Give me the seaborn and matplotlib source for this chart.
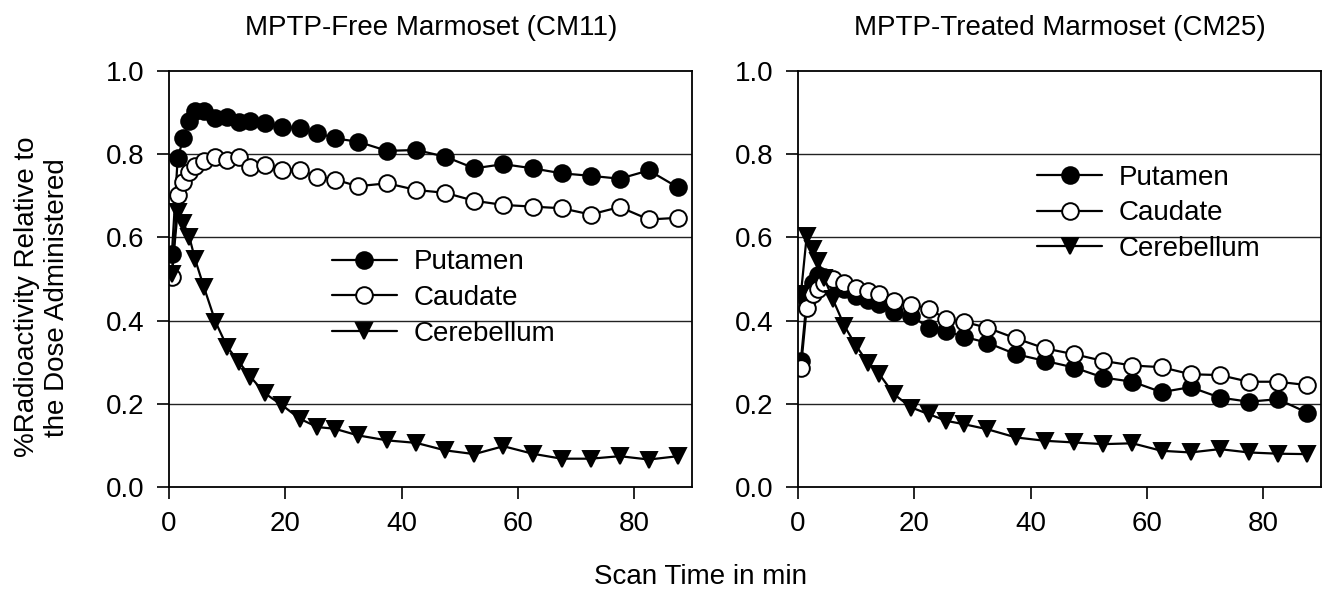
import numpy as np
import pandas as pd
import matplotlib
matplotlib.use("Agg")
import matplotlib.pyplot as plt
import seaborn as sns

# frame mid-times (min)
times = [0.5, 1.5, 2.5, 3.5, 4.5, 6, 8, 10, 12, 14, 16.5, 19.5, 22.5, 25.5, 28.5,
         32.5, 37.5, 42.5, 47.5, 52.5, 57.5, 62.5, 67.5, 72.5, 77.5, 82.5, 87.5]

# MPTP-free marmoset (CM11)
cm11_putamen = [0.56, 0.79, 0.84, 0.88, 0.905, 0.905, 0.886, 0.89, 0.878, 0.88, 0.874,
                0.866, 0.862, 0.852, 0.838, 0.83, 0.808, 0.81, 0.794, 0.766, 0.776,
                0.766, 0.754, 0.748, 0.741, 0.761, 0.72]
cm11_caudate = [0.505, 0.702, 0.734, 0.758, 0.771, 0.783, 0.794, 0.787, 0.794, 0.768,
                0.775, 0.763, 0.763, 0.746, 0.739, 0.723, 0.73, 0.714, 0.707, 0.688,
                0.678, 0.674, 0.67, 0.655, 0.673, 0.643, 0.647]
cm11_cerebellum = [0.513, 0.662, 0.634, 0.601, 0.547, 0.481, 0.397, 0.337, 0.301, 0.265,
                   0.225, 0.196, 0.164, 0.144, 0.140, 0.124, 0.112, 0.106, 0.088, 0.079,
                   0.098, 0.08, 0.068, 0.068, 0.074, 0.066, 0.074]

# MPTP-treated marmoset (CM25)
cm25_putamen = [0.304, 0.45, 0.49, 0.51, 0.505, 0.49, 0.475, 0.46, 0.449, 0.439, 0.421,
                0.411, 0.383, 0.375, 0.361, 0.347, 0.319, 0.303, 0.287, 0.263, 0.253,
                0.228, 0.24, 0.215, 0.205, 0.211, 0.179]
cm25_caudate = [0.285, 0.43, 0.463, 0.475, 0.49, 0.499, 0.491, 0.479, 0.471, 0.463,
                0.447, 0.437, 0.429, 0.403, 0.397, 0.383, 0.357, 0.333, 0.319, 0.303,
                0.292, 0.288, 0.271, 0.269, 0.253, 0.253, 0.245]
cm25_cerebellum = [0.463, 0.603, 0.571, 0.543, 0.503, 0.451, 0.387, 0.339, 0.299, 0.271,
                   0.223, 0.191, 0.175, 0.159, 0.151, 0.139, 0.119, 0.111, 0.107, 0.103,
                   0.105, 0.087, 0.083, 0.091, 0.083, 0.080, 0.079]

regions = ["Putamen", "Caudate", "Cerebellum"]
titles = ["MPTP-Free Marmoset (CM11)", "MPTP-Treated Marmoset (CM25)"]

sns.set_style("white")
plt.rcParams["font.family"] = ["Liberation Sans", "DejaVu Sans"]
plt.rcParams["font.size"] = 20
for k in ["text.color", "axes.labelcolor", "xtick.color", "ytick.color"]:
    plt.rcParams[k] = "black"

styles = {
    "Putamen": dict(marker="o", markerfacecolor="black", markersize=12),
    "Caudate": dict(marker="o", markerfacecolor="white", markersize=12),
    "Cerebellum": dict(marker="v", markerfacecolor="black", markersize=12),
}

panels = [
    pd.DataFrame({"time": times, "Putamen": cm11_putamen, "Caudate": cm11_caudate,
                  "Cerebellum": cm11_cerebellum}),
    pd.DataFrame({"time": times, "Putamen": cm25_putamen, "Caudate": cm25_caudate,
                  "Cerebellum": cm25_cerebellum}),
]

fig = plt.figure(figsize=(13.22, 5.92), dpi=100)
ax_left = fig.add_axes([0.1278, 0.1774, 0.396, 0.7027])
ax_right = fig.add_axes([0.6036, 0.1774, 0.396, 0.7027])
legend_pos = [(0.311, 0.571), (0.457, 0.775)]

for ax, df, title, lpos in zip([ax_left, ax_right], panels, titles, legend_pos):
    for g in [0.2, 0.4, 0.6, 0.8]:
        ax.axhline(g, color="#222222", lw=1.0, zorder=0)
    for reg in regions:
        sns.lineplot(data=df, x="time", y=reg, ax=ax, color="black", lw=1.6,
                     markeredgecolor="black", markeredgewidth=1.4, label=reg,
                     **styles[reg])
    ax.set_xlim(0, 90)
    ax.set_ylim(0, 1.0)
    ax.set_xticks([0, 20, 40, 60, 80])
    ax.set_yticks([0.0, 0.2, 0.4, 0.6, 0.8, 1.0])
    ax.set_yticklabels(["0.0", "0.2", "0.4", "0.6", "0.8", "1.0"])
    ax.set_xlabel("")
    ax.set_ylabel("")
    ax.tick_params(direction="out", length=8.5, width=1.2, labelsize=20, pad=9,
                   colors="black", left=True, bottom=True)
    for sp in ax.spines.values():
        sp.set_color("black")
        sp.set_linewidth(1.3)
    ax.set_title(title, fontsize=20, pad=26)
    ax.legend(loc="upper left", bbox_to_anchor=lpos, frameon=False, fontsize=20,
              handlelength=2.34, handletextpad=0.6, labelspacing=0.35,
              borderpad=0, borderaxespad=0)

fig.text(0.032, 0.498, "%Radioactivity Relative to\nthe Dose Administered",
         rotation=90, ha="center", va="center", multialignment="center", fontsize=20)
fig.text(0.53, 0.025, "Scan Time in min", ha="center", va="center", fontsize=20)

fig.savefig("out.png", dpi=100)
